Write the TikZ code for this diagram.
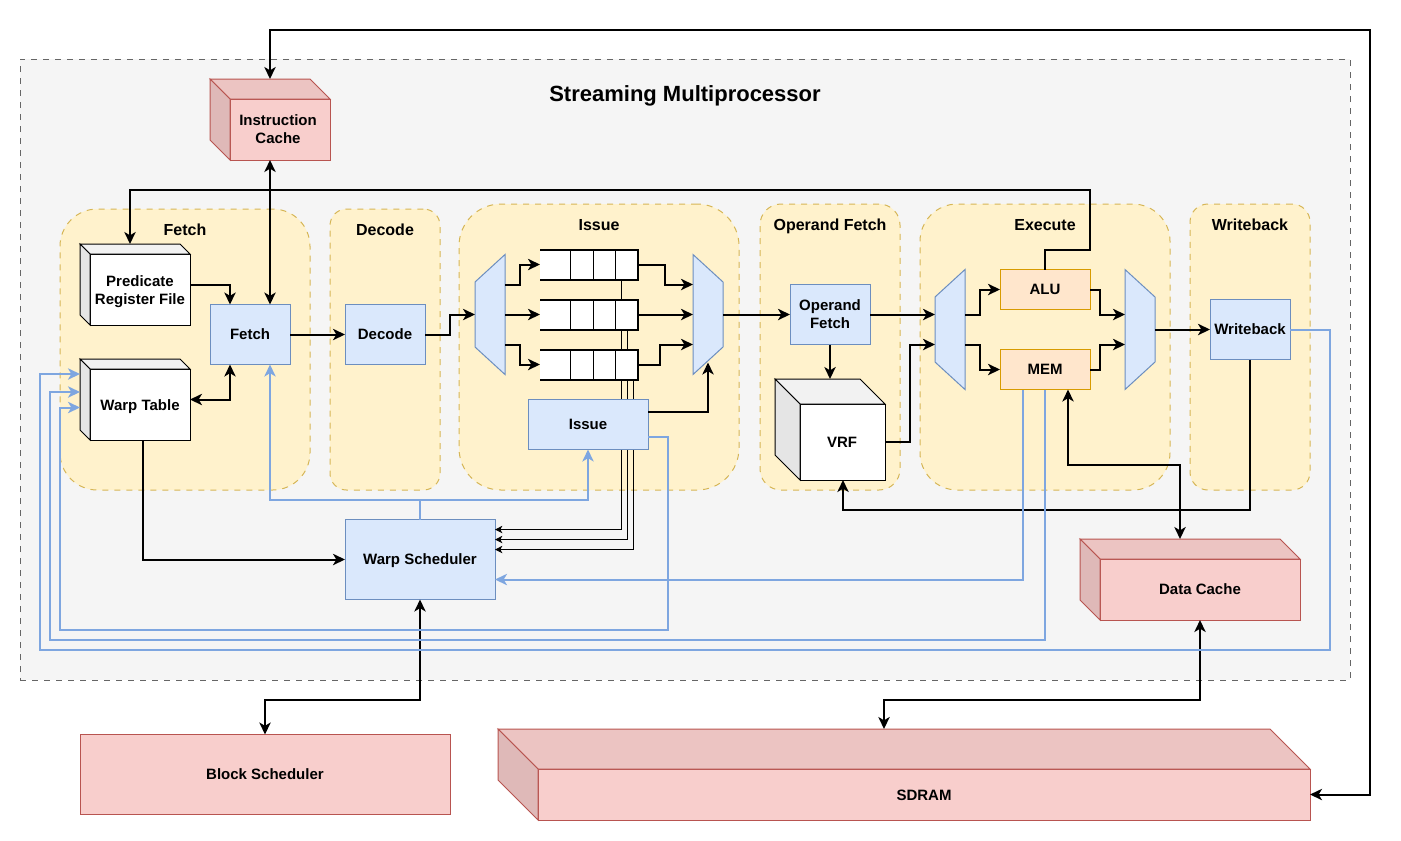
\documentclass[tikz,border=0pt]{standalone}
\usepackage{fontspec}
\setmainfont{Liberation Sans}
\usetikzlibrary{arrows.meta}
\definecolor{smfill}{HTML}{F5F5F5}
\definecolor{smline}{HTML}{666666}
\definecolor{phasefill}{HTML}{FFF2CC}
\definecolor{phaseline}{HTML}{D6B656}
\definecolor{blockfill}{HTML}{DAE8FC}
\definecolor{blockline}{HTML}{6C8EBF}
\definecolor{aluline}{HTML}{D79B00}
\definecolor{alufill}{HTML}{FFE6CC}
\definecolor{memfill}{HTML}{F8CECC}
\definecolor{memline}{HTML}{B85450}
\definecolor{ctrlblue}{HTML}{7EA6E0}
\tikzset{
  >={Stealth[length=9pt,width=8.5pt,inset=2.5pt]},
  sized/.style 2 args={minimum width=#1*0.75pt,minimum height=#2*0.75pt},
  plainbox/.style={rectangle,inner sep=0pt,outer sep=0pt,line width=0.75pt,align=center,font=\fontsize{11.25}{13.5}\selectfont\bfseries},
  blockbox/.style={plainbox,draw=blockline,fill=blockfill},
  unitbox/.style={plainbox,draw=aluline,fill=alufill},
  membox/.style={plainbox,draw=memline,fill=memfill},
  phasebox/.style={plainbox,draw=phaseline,fill=phasefill,dash pattern=on 4.5pt off 4.5pt},
  tag/.style={plainbox},
  phasetag/.style={plainbox,text depth=0pt,font=\fontsize{12}{14}\selectfont\bfseries},
  qcell/.style={rectangle,inner sep=0pt,outer sep=0pt,fill=white},
  wire/.style={draw=black,line width=1.5pt,->},
  bothwire/.style={draw=black,line width=1.5pt,<->},
  thinwire/.style={draw=black,line width=0.75pt,-{Stealth[length=5.5pt,width=5.5pt,inset=1.5pt]}},
  ctrlwire/.style={draw=ctrlblue,line width=1.5pt,->}
}
% name, x0, y0, x1, y1, depth, fill, line
\newcommand{\cubebox}[8]{
  \pgfmathsetmacro{\cubew}{#4-#2}
  \pgfmathsetmacro{\cubeh}{#5-#3}
  \filldraw[#7,draw=#8,line width=0.75pt] (#2+#6,#3+#6) rectangle (#4,#5);
  \filldraw[#7!95!black,draw=#8,line width=0.75pt] (#2,#3) -- (#4-#6,#3) -- (#4,#3+#6) -- (#2+#6,#3+#6) -- cycle;
  \filldraw[#7!90!black,draw=#8,line width=0.75pt] (#2,#3) -- (#2+#6,#3+#6) -- (#2+#6,#5) -- (#2,#5-#6) -- cycle;
  \node[plainbox,sized={\cubew}{\cubeh}] (#1) at ({(#2+#4)/2},{(#3+#5)/2}) {};
}
% name, narrow x, wide x, centre y
\newcommand{\muxbox}[4]{
  \filldraw[blockfill,draw=blockline,line width=0.75pt] (#2,#4-32.5) -- (#3,#4-60) -- (#3,#4+60) -- (#2,#4+32.5) -- cycle;
  \node[plainbox,sized={30}{120}] (#1) at ({(#2+#3)/2},#4) {};
}
\begin{document}
\begin{tikzpicture}[x=0.75pt,y=-0.75pt]
\useasboundingbox (0,0.5) rectangle (1401,840.5);
\node[plainbox,draw=smline,fill=smfill,dash pattern=on 4.5pt off 4.5pt,sized={1330}{621}] (sm) at (685,370) {};
\node[tag,font=\fontsize{16.5}{20}\selectfont\bfseries,text depth=0pt] (smtitle) at (685,94.5) {Streaming Multiprocessor};

\node[phasebox,rounded corners=28pt,sized={250}{281}] (fetchphase) at (185,350) {};
\node[phasebox,rounded corners=12.4pt,sized={110}{281}] (decodephase) at (385,350) {};
\node[phasebox,rounded corners=31.5pt,sized={280}{286}] (issuephase) at (599,347.5) {};
\node[phasebox,rounded corners=15.75pt,sized={140}{286}] (opphase) at (830,347.5) {};
\node[phasebox,rounded corners=28pt,sized={250}{286}] (execphase) at (1045,347.5) {};
\node[phasebox,rounded corners=13.5pt,sized={120}{286}] (wbphase) at (1250,347.5) {};
\node[phasetag] (fetchtag) at (185,230) {Fetch};
\node[phasetag] (decodetag) at (385,230) {Decode};
\node[phasetag] (issuetag) at (599,225) {Issue};
\node[phasetag] (optag) at (830,225) {Operand Fetch};
\node[phasetag] (exectag) at (1045,225) {Execute};
\node[phasetag] (wbtag) at (1250,225) {Writeback};

\node[qcell,sized={98}{30}] (queueA) at (589,265) {};
\node[qcell,sized={98}{30}] (queueB) at (589,315) {};
\node[qcell,sized={98}{30}] (queueC) at (589,365) {};
\node[blockbox,sized={150}{80},text depth=0pt] (warpsched) at (420,560) {Warp Scheduler};
\draw[thinwire] ([shift={(32,0)}]queueA.south) |- ([shift={(0,-30)}]warpsched.east);
\draw[thinwire] ([shift={(38,0)}]queueB.south) |- ([shift={(0,-20)}]warpsched.east);
\draw[thinwire] ([shift={(44,0)}]queueC.south) |- ([shift={(0,-10)}]warpsched.east);
\foreach \qname in {queueA,queueB,queueC} {
  \node[qcell,sized={98}{30}] at (\qname) {};
  \draw[line width=1.5pt] (\qname.north west) -- (\qname.north east) -- (\qname.south east) -- (\qname.south west);
  \draw[line width=0.75pt] ([shift={(30.5,0)}]\qname.north west) -- ([shift={(30.5,0)}]\qname.south west);
  \draw[line width=0.75pt] ([shift={(53,0)}]\qname.north west) -- ([shift={(53,0)}]\qname.south west);
  \draw[line width=0.75pt] ([shift={(75,0)}]\qname.north west) -- ([shift={(75,0)}]\qname.south west);
}

\cubebox{icache}{210}{79.5}{330}{160.5}{20}{memfill}{memline}
\node[tag] (icachetag) at (278,130) {Instruction\\Cache};
\cubebox{predfile}{80}{244.5}{190}{325.5}{10}{white}{black}
\node[tag] (predtag) at (140,292) {Predicate\\Register File};
\cubebox{warptable}{80}{359.5}{190}{440.5}{10}{white}{black}
\node[tag,text depth=0pt] (warptag) at (140,406) {Warp Table};
\cubebox{vrf}{775}{379.5}{885}{480.5}{25}{white}{black}
\node[tag] (vrftag) at (842,443) {VRF};
\cubebox{dcache}{1080}{539.5}{1300}{620.5}{20}{memfill}{memline}
\node[tag] (dcachetag) at (1200,590) {Data Cache};
\cubebox{sdram}{498}{729.5}{1310}{820.5}{40}{memfill}{memline}
\node[tag] (sdramtag) at (924,796) {SDRAM};

\node[blockbox,sized={80}{60}] (fetch) at (250,335) {Fetch};
\node[blockbox,sized={80}{60}] (decode) at (385,335) {Decode};
\node[blockbox,sized={120}{50}] (issue) at (588,425) {Issue};
\node[blockbox,sized={80}{60}] (opfetch) at (830,315) {Operand\\Fetch};
\node[blockbox,sized={80}{60}] (writeback) at (1250,330) {Writeback};
\node[unitbox,sized={90}{40}] (alu) at (1045,290) {ALU};
\node[unitbox,sized={90}{40}] (mem) at (1045,370) {MEM};
\node[membox,sized={370}{80}] (blocksched) at (265,775) {Block Scheduler};
\muxbox{demux}{475}{505}{315}
\muxbox{issuemux}{723}{693}{315}
\muxbox{execdemux}{935}{965}{330}
\muxbox{execmux}{1155}{1125}{330}

\draw[bothwire] ([shift={(0,20)}]sdram.east) -| (1370,30) -| (icache.north);
\draw[bothwire] (icache.south) -- ([shift={(20,0)}]fetch.north);
\draw[wire] (alu.north) |- (1090,250) -- (1090,190) -| ([shift={(-5,0)}]predfile.north);
\draw[wire] (predfile.east) -| ([shift={(-20,0)}]fetch.north);
\draw[bothwire] (warptable.east) -| ([shift={(-20,0)}]fetch.south);
\draw[wire] (fetch.east) -- (decode.west);
\draw[wire] (decode.east) -- ++(25,0) |- (demux.west);
\draw[wire] ([shift={(0,-30)}]demux.east) -- ++(15,0) |- (queueA.west);
\draw[wire] (demux.east) -- (queueB.west);
\draw[wire] ([shift={(0,30)}]demux.east) -- ++(15,0) |- (queueC.west);
\draw[wire] (queueA.east) -- ++(27,0) |- ([shift={(0,-30)}]issuemux.west);
\draw[wire] (queueB.east) -- (issuemux.west);
\draw[wire] (queueC.east) -- ++(22,0) |- ([shift={(0,30)}]issuemux.west);
\draw[wire] ([shift={(0,-13)}]issue.east) -| ([shift={(0,-12)}]issuemux.south);
\draw[wire] (issuemux.east) -- (opfetch.west);
\draw[wire] (opfetch.east) -- ([shift={(0,-15)}]execdemux.west);
\draw[wire] (opfetch.south) -- (vrf.north);
\draw[wire] ([shift={(0,12.5)}]vrf.east) -- ++(25,0) |- ([shift={(0,15)}]execdemux.west);
\draw[wire] ([shift={(0,-15)}]execdemux.east) -- ++(15,0) |- (alu.west);
\draw[wire] ([shift={(0,15)}]execdemux.east) -- ++(15,0) |- (mem.west);
\draw[wire] (alu.east) -- ++(10,0) |- ([shift={(0,-15)}]execmux.west);
\draw[wire] (mem.east) -- ++(10,0) |- ([shift={(0,15)}]execmux.west);
\draw[wire] (execmux.east) -- (writeback.west);
\draw[wire] (writeback.south) -- (1250,510) -| ([shift={(13,0)}]vrf.south);
\draw[bothwire] ([shift={(23,0)}]mem.south) |- (1180,465) -- ([shift={(-10,0)}]dcache.north);
\draw[wire] ([shift={(8,0)}]warptable.south) |- (warpsched.west);
\draw[bothwire] (warpsched.south) |- (265,700) -- (blocksched.north);
\draw[bothwire] ([shift={(10,0)}]dcache.south) |- (884,700) -- ([shift={(-20,0)}]sdram.north);

\draw[ctrlwire] (warpsched.north) -- (420,500) -| ([shift={(20,0)}]fetch.south);
\draw[ctrlwire] (warpsched.north) -- (420,500) -| (issue.south);
\draw[ctrlwire] ([shift={(0,12)}]issue.east) -| (668,630) -- (60,630) |- ([shift={(0,8)}]warptable.west);
\draw[ctrlwire] (mem.south) |- (50,640) |- ([shift={(0,-7.5)}]warptable.west);
\draw[ctrlwire] (writeback.east) -| (1330,650) -- (40,650) |- ([shift={(0,-25.5)}]warptable.west);
\draw[ctrlwire] ([shift={(-22,0)}]mem.south) |- ([shift={(0,20)}]warpsched.east);
\end{tikzpicture}
\end{document}
